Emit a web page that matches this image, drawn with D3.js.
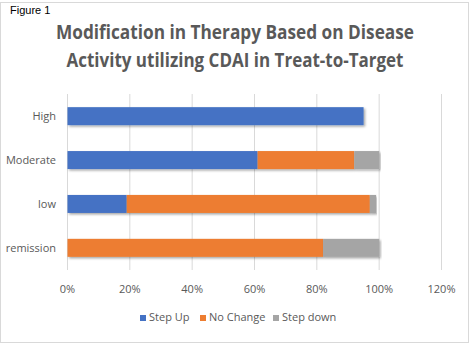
<!DOCTYPE html>
<html lang="en">
<head>
<meta charset="UTF-8">
<title>Modification in Therapy</title>
<script src="https://cdn.jsdelivr.net/npm/d3@7"></script>
<style>
body { margin: 0; background: #fff; }
text { font-family: "Open Sans", "Noto Sans", sans-serif; fill: #595959; }
</style>
</head>
<body>
<svg width="470" height="345"></svg>
<script>
var categories = ["High", "Moderate", "low", "remission"];
var seriesNames = ["Step Up", "No Change", "Step down"];
var stepUp = [0.95, 0.61, 0.19, 0];
var noChange = [0, 0.31, 0.78, 0.82];
var stepDown = [0, 0.08, 0.02, 0.18];
var tickValues = [0, 0.2, 0.4, 0.6, 0.8, 1.0, 1.2];
var colors = ["#4472C4", "#ED7D31", "#A5A5A5"];

var svg = d3.select("svg");
var W = +svg.attr("width"), H = +svg.attr("height");

// frame
svg.append("rect").attr("x", 0.5).attr("y", 2.5).attr("width", 468).attr("height", 340)
  .attr("fill", "none").attr("stroke", "#d9d9d9");

var defs = svg.append("defs");
var f = defs.append("filter").attr("id", "sh").attr("x", "-5%").attr("y", "-20%").attr("width", "110%").attr("height", "160%");
f.append("feDropShadow").attr("dx", 1.5).attr("dy", 1.5).attr("stdDeviation", 1.2).attr("flood-color", "#000").attr("flood-opacity", 0.35);

svg.append("text").attr("x", 10).attr("y", 14).text("Figure 1")
  .style("font-family", "Liberation Sans, Arial, sans-serif").style("font-size", "11px").style("fill", "#000");

var title = ["Modification in Therapy Based on Disease", "Activity utilizing CDAI in Treat-to-Target"];
var titleW = [358, 337];
svg.selectAll(".title").data(title).enter().append("text")
  .attr("class", "title")
  .attr("x", 235).attr("y", function(d, i) { return 39 + i * 28; })
  .attr("text-anchor", "middle")
  .attr("textLength", function(d, i) { return titleW[i]; })
  .attr("lengthAdjust", "spacingAndGlyphs")
  .style("font-size", "19px").style("font-weight", "bold")
  .text(function(d) { return d; });

var x = d3.scaleLinear().domain([0, 1.2]).range([67.5, 441.5]);
var y = d3.scaleBand().domain(categories).range([94, 270]).paddingInner(0.59).paddingOuter(0.3);

var g = svg.append("g");

g.selectAll(".grid").data(tickValues).enter().append("line")
  .attr("x1", function(d) { return x(d); }).attr("x2", function(d) { return x(d); })
  .attr("y1", 94).attr("y2", 270)
  .attr("stroke", "#d9d9d9").attr("stroke-width", 1);

var rows = categories.map(function(c, i) {
  return { cat: c, "Step Up": stepUp[i], "No Change": noChange[i], "Step down": stepDown[i] };
});
var stacked = d3.stack().keys(seriesNames)(rows);

stacked.forEach(function(layer, k) {
  g.selectAll(".bar" + k).data(layer.filter(function(d) { return d[1] - d[0] > 0; })).enter().append("rect")
    .attr("x", function(d) { return x(d[0]); })
    .attr("width", function(d) { return x(d[1]) - x(d[0]); })
    .attr("y", function(d) { return y(d.data.cat); })
    .attr("height", y.bandwidth())
    .attr("fill", colors[k])
    .attr("filter", "url(#sh)");
});

g.selectAll(".ylab").data(categories).enter().append("text")
  .attr("x", 56).attr("y", function(d) { return y(d) + y.bandwidth() / 2 + 4; })
  .attr("text-anchor", "end").style("font-size", "11px")
  .text(function(d) { return d; });

g.selectAll(".xlab").data(tickValues).enter().append("text")
  .attr("x", function(d) { return x(d); }).attr("y", 293)
  .attr("text-anchor", "middle").style("font-size", "11px")
  .text(d3.format(".0%"));

// legend
var legX = [140, 200, 273];
var leg = svg.selectAll(".leg").data(seriesNames).enter().append("g")
  .attr("transform", function(d, i) { return "translate(" + legX[i] + ",321)"; });
leg.append("rect").attr("x", 0).attr("y", -6).attr("width", 6).attr("height", 6)
  .attr("fill", function(d, i) { return colors[i]; });
leg.append("text").attr("x", 9).attr("y", 0).style("font-size", "11px")
  .text(function(d) { return d; });
</script>
</body>
</html>
